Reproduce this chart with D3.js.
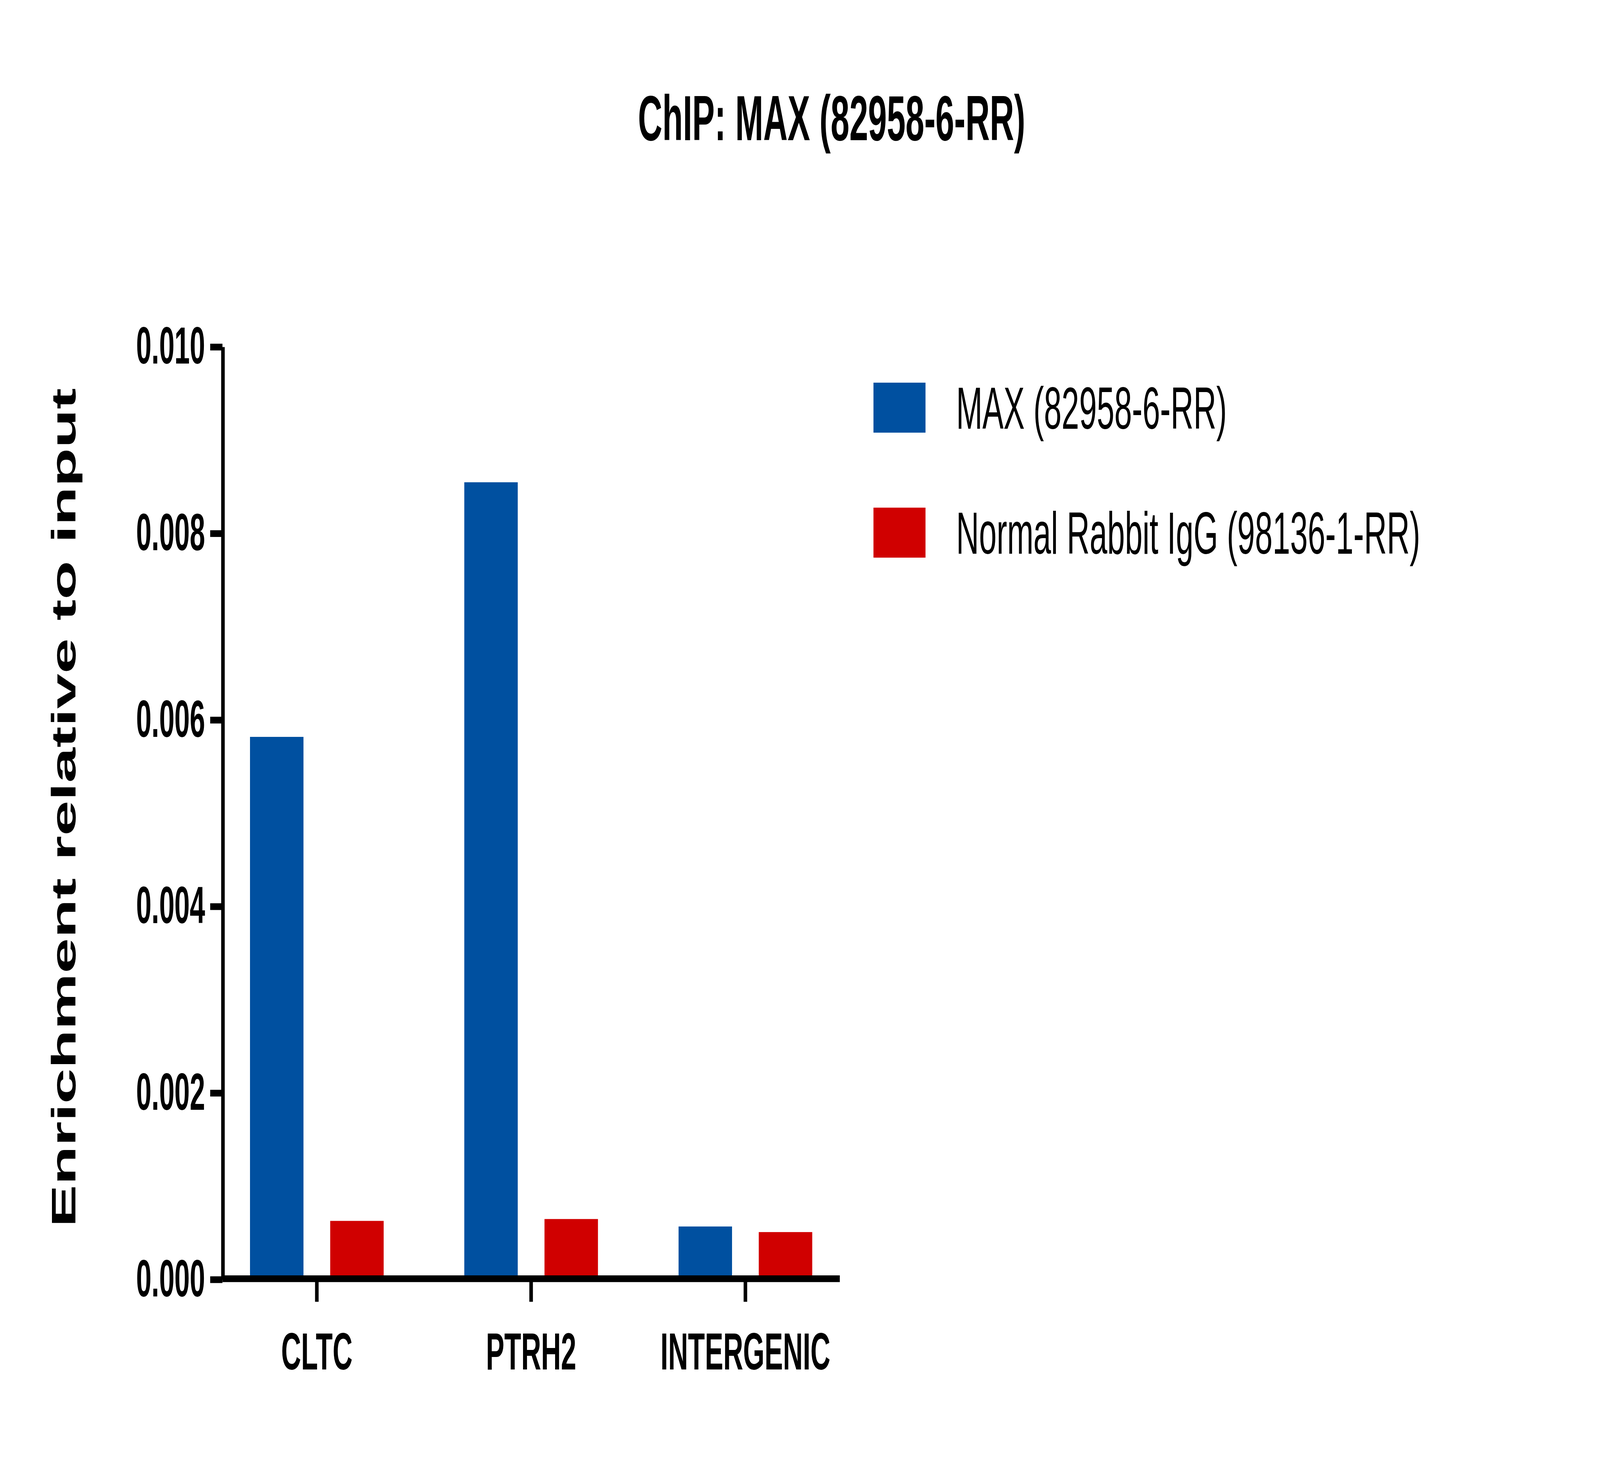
<!DOCTYPE html>
<html><head><meta charset="utf-8">
<script src="https://cdn.jsdelivr.net/npm/d3@7"></script>
<style>html,body{margin:0;padding:0;background:#fff;overflow:hidden}svg{display:block;width:100vw;height:100vh}text{font-family:"Liberation Sans",Arial,sans-serif}</style>
</head><body>
<script>
const categories = ["CLTC","PTRH2","INTERGENIC"];
const seriesNames = ["MAX (82958-6-RR)","Normal Rabbit IgG (98136-1-RR)"];
const maxValues = [0.00581,0.00854,0.00056];
const iggValues = [0.00062,0.00064,0.00050];
const yTicks = [0,0.002,0.004,0.006,0.008,0.010];
const colors = ["#0050A0","#D00000"];

const W=1568,H=765;
const svg=d3.select("body").append("svg").attr("viewBox",`0 0 ${W} ${H}`).attr("preserveAspectRatio","none");
const x0=218,x1=823,yTop=180,yBot=665;
const y=d3.scaleLinear().domain([0,0.01]).range([yBot,yTop]);
const x=d3.scaleBand().domain(categories).range([235,865]).paddingInner(0).paddingOuter(0);
const xs=d3.scaleBand().domain([0,1]).range([10,141]).paddingInner(1/3).paddingOuter(0);

const data=[maxValues,iggValues];
data.forEach((vals,s)=>{
  svg.selectAll(null).data(categories).enter().append("rect")
    .attr("x",d=>x(d)+xs(s)).attr("width",xs.bandwidth())
    .attr("y",(d,i)=>y(vals[i])).attr("height",(d,i)=>yBot-y(vals[i]))
    .attr("fill",colors[s]);
});

const ya=svg.append("g").attr("transform",`translate(${x0},0)`)
  .call(d3.axisLeft(y).tickValues(yTicks).tickFormat(d3.format(".3f")).tickSize(12).tickSizeOuter(0));
ya.select(".domain").attr("stroke","#000").attr("stroke-width",3.5);
ya.selectAll(".tick line").attr("stroke-width",3.5);
ya.selectAll("text").attr("font-size",27).attr("font-weight","bold").attr("fill","#000").attr("dx",-2);

const xa=svg.append("g").attr("transform",`translate(0,${yBot})`)
  .call(d3.axisBottom(x).tickSize(12).tickSizeOuter(0));
xa.select(".domain").attr("d",`M${x0},0H${x1}`).attr("stroke","#000").attr("stroke-width",3.5);
xa.selectAll(".tick").attr("transform",d=>`translate(${x(d)+75.5},0)`);
xa.selectAll(".tick line").attr("stroke-width",3.5);
xa.selectAll("text").attr("font-size",27).attr("font-weight","bold").attr("fill","#000").attr("y",28);

svg.append("text").attr("x",815).attr("y",73).attr("text-anchor","middle")
  .attr("font-size",33).attr("font-weight","bold").text("ChIP: MAX (82958-6-RR)");
svg.append("text").attr("transform",`translate(74,420) rotate(-90)`).attr("text-anchor","middle")
  .attr("font-size",33).attr("font-weight","bold").text("Enrichment relative to input");

seriesNames.forEach((n,i)=>{
  const yy=199+i*65;
  svg.append("rect").attr("x",856).attr("y",yy).attr("width",51).attr("height",26).attr("fill",colors[i]);
  svg.append("text").attr("x",937).attr("y",yy+24).attr("font-size",31).text(n);
});
</script>
</body></html>
